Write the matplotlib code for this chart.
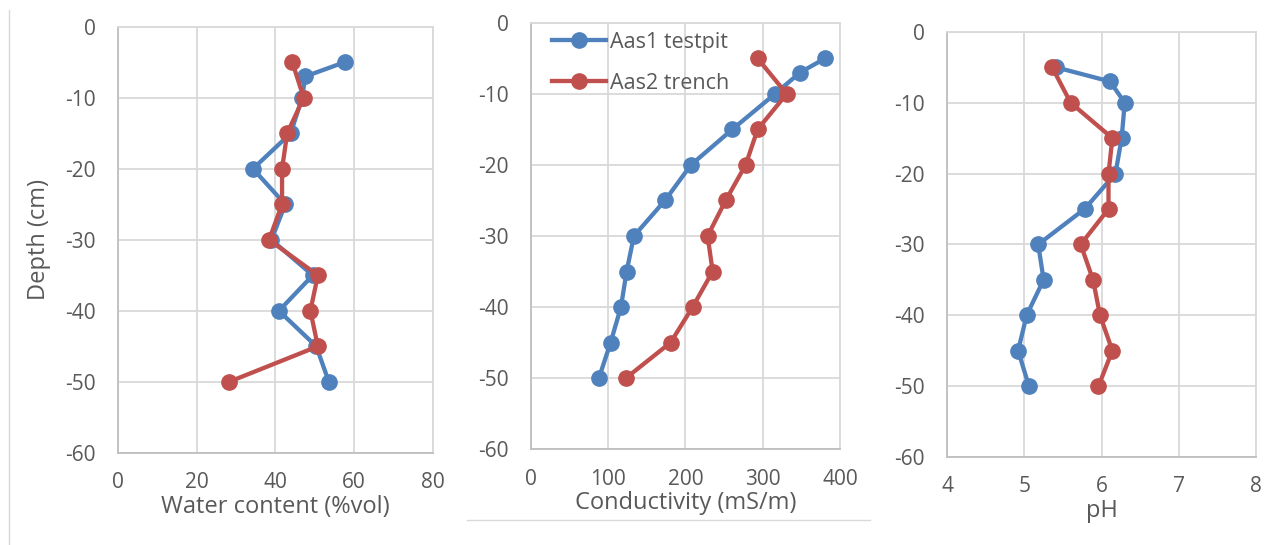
import matplotlib
matplotlib.use('Agg')
import matplotlib.pyplot as plt
from matplotlib.lines import Line2D

# Profundidades de muestreo (cm)
depth_testpit = [-5, -7, -10, -15, -20, -25, -30, -35, -40, -45, -50]
depth_trench = [-5, -10, -15, -20, -25, -30, -35, -40, -45, -50]

# Contenido de agua (%vol)
water_testpit = [57.6, 47.6, 46.8, 43.9, 34.3, 42.5, 39.0, 49.5, 40.9, 50.4, 53.6]
water_trench = [44.3, 47.2, 43.0, 41.7, 41.7, 38.4, 50.8, 48.9, 50.8, 28.2]

# Conductividad (mS/m)
cond_testpit = [380.6, 348.2, 315.9, 260.6, 207.1, 173.5, 133.3, 123.8, 116.5, 103.1, 88.0]
cond_trench = [293.4, 331.0, 293.4, 277.9, 252.0, 228.7, 235.2, 209.3, 180.8, 123.0]

# pH
ph_testpit = [5.41, 6.11, 6.30, 6.26, 6.18, 5.78, 5.18, 5.25, 5.03, 4.92, 5.06]
ph_trench = [5.36, 5.60, 6.14, 6.09, 6.09, 5.73, 5.89, 5.98, 6.14, 5.96]

series_names = ['Aas1 testpit', 'Aas2 trench']
y_ticks = [0, -10, -20, -30, -40, -50, -60]

BLUE = '#4F81BD'
RED = '#C0504D'
GRID = '#D9D9D9'
TEXT = '#595959'

plt.rcParams['font.family'] = ['Open Sans', 'DejaVu Sans']
plt.rcParams['axes.unicode_minus'] = False

fig = plt.figure(figsize=(12.69, 5.45), dpi=100)

# posiciones de los paneles en fracciones de la figura
panels = [
    dict(rect=[0.093, 0.169, 0.248, 0.782], x=(water_testpit, water_trench),
         xlim=(0, 80), xticks=[0, 20, 40, 60, 80], xlabel='Water content (%vol)', ylabel='Depth (cm)'),
    dict(rect=[0.4184, 0.176, 0.2435, 0.782], x=(cond_testpit, cond_trench),
         xlim=(0, 400), xticks=[0, 100, 200, 300, 400], xlabel='Conductivity (mS/m)', ylabel=None),
    dict(rect=[0.7463, 0.1615, 0.2435, 0.780], x=(ph_testpit, ph_trench),
         xlim=(4, 8), xticks=[4, 5, 6, 7, 8], xlabel='pH', ylabel=None),
]

axes = []
for p in panels:
    ax = fig.add_axes(p['rect'])
    xs1, xs2 = p['x']
    ax.plot(xs1, depth_testpit, color=BLUE, lw=3.1, marker='o', ms=11, label=series_names[0], zorder=3)
    ax.plot(xs2, depth_trench, color=RED, lw=3.1, marker='o', ms=11, label=series_names[1], zorder=4)
    ax.set_xlim(*p['xlim'])
    ax.set_ylim(-60, 0)
    ax.set_xticks(p['xticks'])
    ax.set_yticks(y_ticks)
    ax.grid(True, color=GRID, lw=1.3)
    ax.set_axisbelow(True)
    for s in ax.spines.values():
        s.set_color(GRID)
        s.set_linewidth(1.3)
    ax.spines['left'].set_color('#BFBFBF')
    ax.spines['bottom'].set_color('#BFBFBF')
    ax.tick_params(length=0, labelsize=15, labelcolor=TEXT)
    ax.tick_params(axis='y', pad=16)
    ax.tick_params(axis='x', pad=14)
    ax.set_xlabel(p['xlabel'], fontsize=17, color=TEXT, labelpad=1)
    if p['ylabel']:
        ax.set_ylabel(p['ylabel'], fontsize=17, color=TEXT, labelpad=10)
    axes.append(ax)

axes[1].legend(loc='upper left', frameon=False, fontsize=15.5, labelcolor=TEXT,
               handlelength=2.5, handletextpad=0.2, labelspacing=0.95,
               bbox_to_anchor=(0.02, 1.015), borderaxespad=0.3)

# bordes tenues del gráfico original
fig.add_artist(Line2D([9 / 1269, 9 / 1269], [0, 1 - 10 / 545], color='#D9D9D9', lw=1))
fig.add_artist(Line2D([467 / 1269, 870 / 1269], [25 / 545, 25 / 545], color='#D9D9D9', lw=1))

fig.savefig('out.png', dpi=100)
